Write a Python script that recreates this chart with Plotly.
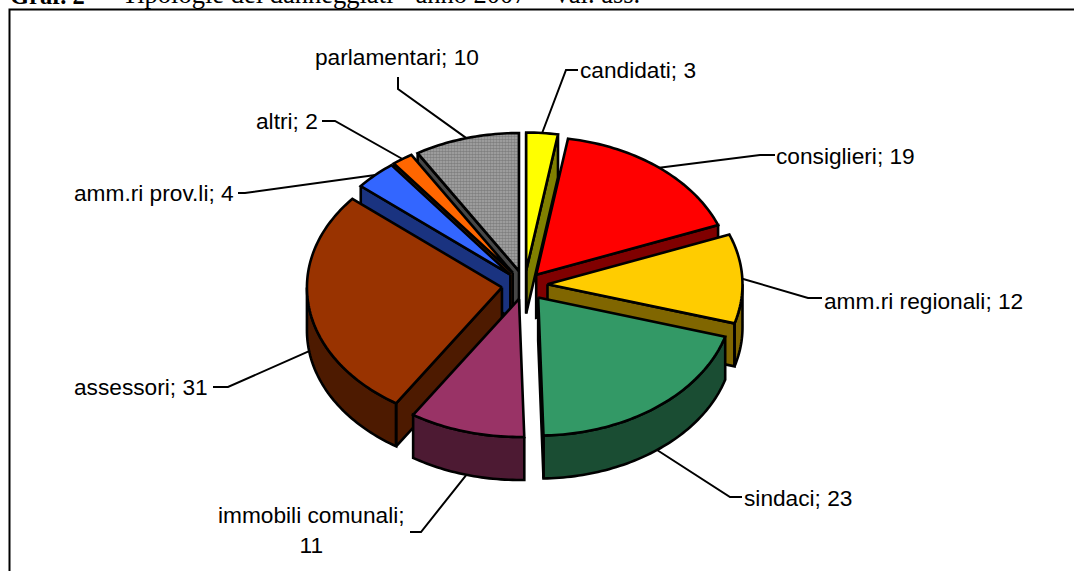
import math
import plotly.graph_objects as go

categories = ["candidati", "consiglieri", "amm.ri regionali", "sindaci", "immobili comunali",
              "assessori", "amm.ri prov.li", "altri", "parlamentari"]
values = [3, 19, 12, 23, 11, 31, 4, 2, 10]
top_colors = ["#FFFF00", "#FF0000", "#FFCC00", "#339966", "#993366", "#993300", "#3366FF", "#FF6600", "#8C8C8C"]
wall_colors = ["#808000", "#800000", "#806600", "#1A4D33", "#4D1A33", "#4D1A00", "#1A3380", "#803300", "#464646"]
explode = [0.105, 0.095, 0.118, 0.115, 0.105, 0.117, 0.105, 0.107, 0.105]

# Pie projection, in the pixel-sized axes of the figure
CX, CY, RX, RY, DEPTH = 524.5, 285, 195, 138, 43
LW = 2.6
FONT = "Liberation Sans"
FS = 22.7

total = sum(values)
starts, ends = [], []
c = 0.0
for v in values:
    starts.append(c / total * 2 * math.pi)
    c += v
    ends.append(c / total * 2 * math.pi)


def apex(i):
    m = (starts[i] + ends[i]) / 2
    p = explode[i]
    return CX + p * RX * math.sin(m), CY - p * RY * math.cos(m)


def rim(i, t, drop=0.0):
    ax, ay = apex(i)
    return ax + RX * math.sin(t), ay - RY * math.cos(t) + drop


def arc(i, t0, t1, drop=0.0):
    n = max(2, int(abs(t1 - t0) / 0.02))
    return [rim(i, t0 + (t1 - t0) * k / n, drop) for k in range(n + 1)]


def polygons(paths):
    xs, ys = [], []
    for path in paths:
        xs += [q[0] for q in path] + [path[0][0], None]
        ys += [q[1] for q in path] + [path[0][1], None]
    return xs, ys


fig = go.Figure()

leaders = {
    "candidati": ([(566, 70), (578, 70)], 0),
    "consiglieri": ([(760, 155), (775, 155)], 0),
    "amm.ri regionali": ([(808, 298), (822, 298)], 0),
    "sindaci": ([(730, 497), (742, 497)], DEPTH),
    "immobili comunali": ([(421, 532), (410, 532)], DEPTH),
    "assessori": ([(228, 387), (213, 387)], DEPTH),
    "amm.ri prov.li": ([(245, 193), (238, 193)], 0),
    "altri": ([(335, 121), (322, 121)], 0),
    "parlamentari": ([(398, 89), (398, 77)], 0),
}
for i, name in enumerate(categories):
    pts, drop = leaders[name]
    m = (starts[i] + ends[i]) / 2
    path = [rim(i, m, drop)] + pts
    fig.add_trace(go.Scatter(x=[q[0] for q in path], y=[q[1] for q in path], mode="lines",
                             line=dict(color="black", width=2), hoverinfo="skip", showlegend=False))

order = sorted(range(len(values)), key=lambda i: -math.cos((starts[i] + ends[i]) / 2))
for i in order:
    s, e = starts[i], ends[i]
    a = apex(i)
    a2 = (a[0], a[1] + DEPTH)
    walls = []
    if s >= math.pi - 1e-9 or s < 1e-9:
        walls.append([a, rim(i, s), rim(i, s, DEPTH), a2])
    if e <= math.pi + 1e-9:
        walls.append([a, rim(i, e), rim(i, e, DEPTH), a2])
    lo, hi = max(s, math.pi / 2), min(e, 1.5 * math.pi)
    if hi > lo:
        walls.append(arc(i, lo, hi) + arc(i, hi, lo, DEPTH))
    if walls:
        xs, ys = polygons(walls)
        fig.add_trace(go.Scatter(x=xs, y=ys, mode="lines", fill="toself", fillcolor=wall_colors[i],
                                 line=dict(color="black", width=LW, simplify=False), hoverinfo="skip",
                                 showlegend=False))
    xs, ys = polygons([[a] + arc(i, s, e)])
    kw = {}
    if categories[i] == "parlamentari":
        kw["fillpattern"] = dict(shape=".", size=3, solidity=0.6, fgcolor="#555555", bgcolor="#A8A8A8")
    fig.add_trace(go.Scatter(x=xs, y=ys, mode="lines", fill="toself", fillcolor=top_colors[i],
                             line=dict(color="black", width=LW, simplify=False),
                             name=categories[i], text=f"{categories[i]}; {values[i]}", hoverinfo="text",
                             showlegend=False, **kw))

labels = {
    "candidati": (578, 70, "left", None),
    "consiglieri": (774, 156, "left", None),
    "amm.ri regionali": (822, 301, "left", None),
    "sindaci": (742, 498, "left", None),
    "immobili comunali": (311, 530, "center", "immobili comunali;<br>{v}"),
    "assessori": (210, 387, "right", None),
    "amm.ri prov.li": (236, 193, "right", None),
    "altri": (320, 121, "right", None),
    "parlamentari": (397, 57, "center", None),
}
annotations = []
for name, v in zip(categories, values):
    x, y, anchor, tpl = labels[name]
    text = tpl.format(v=v) if tpl else f"{name}; {v}"
    annotations.append(dict(x=x, y=y, text=text, showarrow=False, xanchor=anchor, yanchor="middle",
                            align="center", font=dict(family=FONT, size=FS, color="black")))
title_parts = [(8, "<b>Graf. 2 \u2013</b>", 24.5),
               (120, "Tipologie dei danneggiati - anno 2007 \u2013 Val. ass.", 26.5)]
for x, text, size in title_parts:
    annotations.append(dict(xref="paper", yref="paper", x=x / 1074, y=1 - 11 / 571, text=text,
                            showarrow=False, xanchor="left", yanchor="bottom",
                            font=dict(family="Liberation Serif", size=size, color="black")))

fig.update_layout(
    width=1074, height=571, margin=dict(l=0, r=0, t=0, b=0),
    paper_bgcolor="white", plot_bgcolor="white", showlegend=False,
    xaxis=dict(range=[0, 1074], visible=False, fixedrange=True),
    yaxis=dict(range=[571, 0], visible=False, fixedrange=True),
    annotations=annotations,
    shapes=[dict(type="rect", x0=9.5, y0=9.5, x1=1090, y1=600, line=dict(color="black", width=2), layer="below")],
)
fig.write_html("out.html", config={"displayModeBar": False},
               post_script="document.body.style.margin='0';document.body.style.overflow='hidden';")
